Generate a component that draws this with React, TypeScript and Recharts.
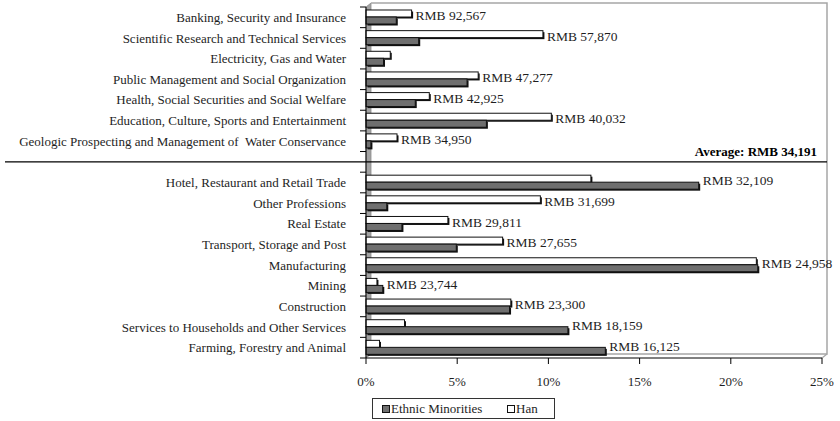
import React from 'react';
import { BarChart, Bar, XAxis, YAxis, ReferenceLine, ReferenceArea, LabelList } from 'recharts';

// industries top to bottom; the blank entry is the slot for the average line
const industries = [
  'Banking, Security and Insurance',
  'Scientific Research and Technical Services',
  'Electricity, Gas and Water',
  'Public Management and Social Organization',
  'Health, Social Securities and Social Welfare',
  'Education, Culture, Sports and Entertainment',
  'Geologic Prospecting and Management of  Water Conservance',
  ' ',
  'Hotel, Restaurant and Retail Trade',
  'Other Professions',
  'Real Estate',
  'Transport, Storage and Post',
  'Manufacturing',
  'Mining',
  'Construction',
  'Services to Households and Other Services',
  'Farming, Forestry and Animal',
];

// share of each group's workforce, in %
const hanShare = [2.5, 9.7, 1.33, 6.15, 3.47, 10.16, 1.7, null, 12.33, 9.56, 4.49, 7.49, 21.4, 0.6, 7.94, 2.11, 0.74];
const minorityShare = [1.66, 2.89, 0.96, 5.54, 2.7, 6.6, 0.27, null, 18.24, 1.14, 1.97, 4.95, 21.48, 0.92, 7.87, 11.07, 13.12];

// average annual wage per industry (RMB)
const avgWage = [92567, 57870, null, 47277, 42925, 40032, 34950, null, 32109, 31699, 29811, 27655, 24958, 23744, 23300, 18159, 16125];
const overallAverage = 34191;

const xTicks = [0, 5, 10, 15, 20, 25];

const data = industries.map((name, i) => {
  const han = hanShare[i];
  const minority = minorityShare[i];
  const hanWins = han != null && minority != null && han >= minority;
  return {
    name,
    han,
    minority,
    hanLabel: hanWins ? avgWage[i] : null,
    minorityLabel: !hanWins ? avgWage[i] : null,
  };
});

const W = 840;
const H = 421;
const MARGIN = { top: 7, right: 18, bottom: 33, left: 0 };
const Y_AXIS_W = 366;
const X_AXIS_H = 30;
const BAND = (H - MARGIN.top - MARGIN.bottom - X_AXIS_H) / industries.length;

const FONT = '"Liberation Serif", "Times New Roman", serif';
const INK = '#1e1e1e';
const MINORITY_GRAY = '#6f6f6f';

const fmt = (v: number) => `RMB ${v.toLocaleString('en-US')}`;

// bar with a dark drop shadow on the right and bottom
const ShadedBar = (props: any) => {
  const { x, y, width, height, fill } = props;
  if (!width || width <= 0) return null;
  return (
    <g>
      <rect x={x + 1.5} y={y + 1.5} width={width} height={height} fill="#111" />
      <rect x={x} y={y} width={width} height={height} fill={fill} stroke="#111" strokeWidth={1} />
    </g>
  );
};

// side walls behind the plot
const Frame = (props: any) => {
  const { x, y, width, height } = props;
  const dx = 5;
  const dy = 4;
  return (
    <g>
      <polygon
        points={`${x},${y} ${x + dx},${y - dy} ${x + dx},${y + height - dy} ${x},${y + height}`}
        fill="#a3a3a3"
        stroke="#8a8a8a"
        strokeWidth={0.8}
      />
      <polyline
        points={`${x + dx},${y - dy} ${x + width + dx},${y - dy} ${x + width + dx},${y + height - dy} ${x + dx},${y + height - dy}`}
        fill="none"
        stroke="#a6a6a6"
        strokeWidth={1.5}
      />
      <line x1={x + width} y1={y + height} x2={x + width + dx} y2={y + height - dy} stroke="#a6a6a6" strokeWidth={1.2} />
    </g>
  );
};

const CategoryTick = (props: any) => {
  const { x, y, payload, index } = props;
  const half = BAND / 2;
  return (
    <g>
      <line x1={x + 14} x2={x + 20} y1={y - half} y2={y - half} stroke="#000" />
      {index === industries.length - 1 && (
        <line x1={x + 14} x2={x + 20} y1={y + half} y2={y + half} stroke="#000" />
      )}
      <text
        x={x}
        y={y}
        dy="0.35em"
        textAnchor="end"
        fontFamily={FONT}
        fontSize={13}
        fill={INK}
        style={{ whiteSpace: 'pre' }}
      >
        {payload.value}
      </text>
    </g>
  );
};

const AverageLine = (props: any) => {
  const { x2, y1 } = props;
  return (
    <g>
      <line x1={5} x2={x2 + 5} y1={y1} y2={y1} stroke="#000" strokeWidth={1.2} />
      <text x={x2 - 5} y={y1 - 6} textAnchor="end" fontFamily={FONT} fontSize={13} fontWeight="bold" fill="#000">
        {`Average: ${fmt(overallAverage)}`}
      </text>
    </g>
  );
};

const wageLabel = (onTopBar: boolean) => (props: any) => {
  const vb = props.viewBox ?? props;
  const { x, y, width, height } = vb;
  const value = props.value;
  if (value == null || value === '') return null;
  const cy = onTopBar ? y + height : y;
  return (
    <text x={x + width + 4} y={cy - 1.5} dy="0.35em" fontFamily={FONT} fontSize={13.5} fill={INK}>
      {fmt(Number(value))}
    </text>
  );
};

const LegendBox = () => (
  <div
    style={{
      position: 'absolute',
      left: 372,
      top: 398,
      width: 183,
      height: 21,
      border: '1px solid #333',
      boxSizing: 'border-box',
      fontFamily: FONT,
      fontSize: 13,
      color: INK,
      background: '#fff',
    }}
  >
    {[
      { label: 'Ethnic Minorities', fill: MINORITY_GRAY, left: 9 },
      { label: 'Han', fill: '#fff', left: 134 },
    ].map((item) => (
      <div key={item.label} style={{ position: 'absolute', left: item.left, top: 1, display: 'flex', alignItems: 'center', height: 18 }}>
        <span style={{ width: 6, height: 6, background: item.fill, border: '1px solid #111', marginRight: 1 }} />
        <span>{item.label}</span>
      </div>
    ))}
  </div>
);

export default function App() {
  return (
    <div style={{ position: 'absolute', left: 0, top: 0, width: W, height: H, background: '#fff' }}>
      <BarChart width={W} height={H} data={data} layout="vertical" margin={MARGIN} barSize={7} barGap={0}>
        <ReferenceArea ifOverflow="visible" shape={<Frame />} />
        <XAxis
          type="number"
          domain={[0, 25]}
          ticks={xTicks}
          tickFormatter={(v) => `${v}%`}
          height={X_AXIS_H}
          tickSize={6}
          tickMargin={13}
          stroke="#000"
          tick={{ fill: INK, fontFamily: FONT, fontSize: 13 }}
        />
        <YAxis
          type="category"
          dataKey="name"
          width={Y_AXIS_W}
          interval={0}
          tickSize={6}
          tickMargin={14}
          tickLine={false}
          stroke="#000"
          tick={<CategoryTick />}
        />
        <ReferenceLine y=" " ifOverflow="visible" shape={<AverageLine />} />
        <Bar dataKey="han" name="Han" fill="#fff" shape={<ShadedBar />} isAnimationActive={false}>
          <LabelList dataKey="hanLabel" content={wageLabel(true)} />
        </Bar>
        <Bar dataKey="minority" name="Ethnic Minorities" fill={MINORITY_GRAY} shape={<ShadedBar />} isAnimationActive={false}>
          <LabelList dataKey="minorityLabel" content={wageLabel(false)} />
        </Bar>
      </BarChart>
      <LegendBox />
    </div>
  );
}
